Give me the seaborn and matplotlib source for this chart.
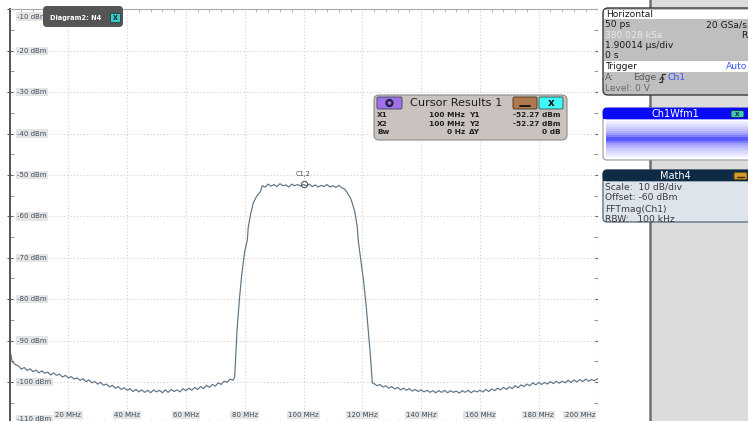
import numpy as np
import pandas as pd
import matplotlib
matplotlib.use("Agg")
import matplotlib.pyplot as plt
import seaborn as sns
from matplotlib.patches import Rectangle, FancyBboxPatch, Circle
from matplotlib.transforms import Affine2D

# ---------------- data ----------------
freq_low = [0.3] + list(range(1, 77)) + [76.6, 77.0, 77.4, 78.2, 79.0, 80.0, 80.9, 81.2, 82.0, 82.9, 84.0, 85.3]
level_low = [-93.0,
             -95.2, -95.8, -96.1, -96.9, -96.5, -97.2, -96.8, -97.5, -97.1, -97.8,
             -97.3, -97.9, -97.6, -98.3, -97.8, -98.4, -98.1, -98.8, -98.4, -99.0,
             -98.7, -99.3, -99.0, -99.6, -99.2, -99.9, -99.5, -100.2, -99.9, -100.5,
             -100.1, -100.8, -100.5, -101.2, -100.8, -101.5, -101.1, -101.8, -101.4, -102.0,
             -101.6, -102.3, -101.8, -102.4, -101.9, -102.5, -102.0, -102.6, -101.9, -102.4,
             -102.0, -102.6, -101.9, -102.5, -101.8, -102.3, -101.9, -102.4, -101.6, -102.1,
             -101.5, -102.0, -101.3, -101.8, -101.1, -101.6, -100.8, -101.3, -100.6, -101.0,
             -100.2, -100.6, -99.8, -100.1, -99.3, -99.6,
             -98.8, -93.0, -87.4, -80.0, -74.0, -68.5, -65.7, -62.6, -59.5, -56.8, -55.2, -54.1]
freq_top = list(range(86, 115))
level_top = [-52.6, -52.9, -52.2, -52.7, -52.3, -52.8, -52.1, -52.6, -52.4, -52.9,
             -52.2, -52.6, -52.3, -52.7, -52.27, -52.6, -52.2, -52.8, -52.4, -52.9,
             -52.5, -52.8, -52.3, -52.9, -52.6, -53.0, -52.5, -53.1, -53.4]
freq_high = [114.9, 116.0, 116.6, 117.5, 118.3, 118.6, 119.5, 120.5, 121.3, 122.0, 122.8, 123.4] + list(range(124, 201))
level_high = [-54.3, -55.6, -56.8, -59.0, -62.6, -65.7, -70.5, -76.0, -81.5, -87.4, -94.0, -100.2,
              -100.4, -100.9, -100.6, -101.2, -100.9, -101.5, -101.1, -101.7, -101.3, -101.9,
              -101.5, -102.0, -101.6, -102.2, -101.8, -102.3, -101.9, -102.4, -102.0, -102.5,
              -102.1, -102.6, -102.1, -102.5, -102.0, -102.6, -102.1, -102.5, -102.2, -102.7,
              -102.1, -102.5, -102.0, -102.6, -102.1, -102.4, -102.0, -102.4, -101.8, -102.3,
              -101.7, -102.1, -101.5, -101.9, -101.3, -101.8, -101.2, -101.6, -100.9, -101.4,
              -100.7, -101.1, -100.5, -100.9, -100.2, -100.7, -100.1, -100.6, -100.1, -100.5,
              -99.9, -100.4, -99.8, -100.3, -99.8, -100.2, -99.6, -100.1, -99.5, -100.0,
              -99.4, -99.9, -99.3, -99.8, -99.4, -99.7, -99.2]

freq_mhz = freq_low + freq_top + freq_high
level_dbm = level_low + level_top + level_high

y_ticks = [-110, -100, -90, -80, -70, -60, -50, -40, -30, -20, -10]
y_labels = ["-110 dBm", "-100 dBm", "-90 dBm", "-80 dBm", "-70 dBm", "-60 dBm",
            "-50 dBm", "-40 dBm", "-30 dBm", "-20 dBm", "-10 dBm"]
x_ticks = [0, 20, 40, 60, 80, 100, 120, 140, 160, 180, 200]
x_labels = ["", "20 MHz", "40 MHz", "60 MHz", "80 MHz", "100 MHz", "120 MHz",
            "140 MHz", "160 MHz", "180 MHz", "200 MHz"]

cursor_x = 100
cursor_y = -52.27

# ---------------- figure ----------------
W, H = 748, 421
sns.set_theme(style="white")
plt.rcParams["font.family"] = ["DejaVu Sans"]
fig = plt.figure(figsize=(W / 100, H / 100), dpi=100, facecolor="white")
PX = Affine2D().scale(1 / W, -1 / H).translate(0, 1) + fig.transFigure

ax_left, ax_right, ax_top, ax_bot = 9.5, 597.5, 9.4, 423.4
ax = fig.add_axes([ax_left / W, 1 - ax_bot / H, (ax_right - ax_left) / W, (ax_bot - ax_top) / H])
ax.set_facecolor("white")

df = pd.DataFrame({"freq": freq_mhz, "level": level_dbm})
sns.lineplot(data=df, x="freq", y="level", ax=ax, color="#5d7388", linewidth=0.85, sort=False)

ax.set_xlim(0, 200)
ax.set_ylim(-110, -10)
ax.set_xticks(x_ticks)
ax.set_yticks(y_ticks)
ax.set_yticks(np.arange(-105, -10, 10), minor=True)
ax.set_xticks(np.arange(0, 201, 4), minor=True)
ax.tick_params(axis="both", which="both", labelleft=False, labelbottom=False)
ax.tick_params(axis="y", which="major", direction="inout", length=5, color="#606060", width=0.8,
               left=True, right=True)
ax.tick_params(axis="y", which="minor", direction="in", length=3, color="#808080", width=0.6,
               left=True, right=True)
ax.tick_params(axis="x", which="major", direction="in", length=0, top=False, bottom=False)
ax.tick_params(axis="x", which="minor", direction="in", length=2, color="#b0b0b0", width=0.6,
               top=True, bottom=True)
ax.set_xlabel("")
ax.set_ylabel("")
ax.grid(True, which="major", color="#cdcdcd", linestyle=(0, (1.0, 2.2)), linewidth=0.75)
ax.spines["left"].set_color("#555555")
ax.spines["left"].set_linewidth(1.4)
for s in ["top", "right", "bottom"]:
    ax.spines[s].set_color("#a8a8a8")
    ax.spines[s].set_linewidth(0.8)

lab_kw = dict(fontsize=5, color="#3e4e5e",
              bbox=dict(boxstyle="square,pad=0.18", fc="#e4e4e4", ec="none"))
ytr = ax.get_yaxis_transform()
for v, lab in zip(y_ticks, y_labels):
    if not lab:
        continue
    if v == -10:
        ax.text(0.013, v - 1.0, lab, transform=ytr, ha="left", va="top", **lab_kw)
    elif v == -110:
        ax.text(0.013, -109.0, lab, transform=ytr, ha="left", va="center", **lab_kw)
    else:
        ax.text(0.013, v, lab, transform=ytr, ha="left", va="center", **lab_kw)
for v, lab in zip(x_ticks, x_labels):
    if not lab:
        continue
    if v == 200:
        ax.text(v - 0.8, -108.0, lab, ha="right", va="center", **lab_kw)
    else:
        ax.text(v, -108.0, lab, ha="center", va="center", **lab_kw)

# cursor marker
ax.plot([cursor_x], [cursor_y], marker="o", markersize=4.5, mfc="none", mec="#505a66", mew=0.8)
ax.text(cursor_x, cursor_y + 1.9, "C1,2", ha="center", va="bottom", fontsize=4.8, color="#404850")

# ---------------- overlays in pixel coordinates ----------------
def rect(x, y, w, h, fc, ec="none", lw=0, z=5, r=0, alpha=None):
    if r:
        p = FancyBboxPatch((x, y), w, h, boxstyle=f"round,pad=0,rounding_size={r}",
                           fc=fc, ec=ec, lw=lw, transform=PX, zorder=z, alpha=alpha)
    else:
        p = Rectangle((x, y), w, h, fc=fc, ec=ec, lw=lw, transform=PX, zorder=z, alpha=alpha)
    fig.add_artist(p)
    return p

def txt(x, y, s, z=10, **kw):
    kw.setdefault("va", "center")
    kw.setdefault("ha", "left")
    fig.text(x, y, s, transform=PX, zorder=z, **kw)

# diagram tab
rect(43, 6, 80, 21, "#555555", r=4, z=6)
txt(50, 18, "Diagram2: N4", fontsize=4.8, color="white", weight="bold")
rect(110, 13, 10, 9, "#3fc8c8", ec="#1a4a4a", lw=0.6, z=7)
txt(115, 17.8, "x", fontsize=5.5, color="#10302f", weight="bold", ha="center")

# right side panel
rect(598, 0, 52, H, "white", z=3)
rect(650, 0, 98, H, "#dcdcdc", z=3)
fig.add_artist(plt.Line2D([650, 650], [0, H], transform=PX, color="#6e6e6e", lw=1.8, zorder=4))

# Horizontal box
rect(603, 8, 150, 87, "#bfbfbf", ec="#3a3a3a", lw=1.0, r=5, z=6)
rect(604, 9.5, 146, 9.5, "white", z=7)
rect(604, 61, 146, 10.5, "white", z=7)
fs = 6.6
txt(606, 14.5, "Horizontal", fontsize=fs, color="#1a1a1a")
txt(605, 24.5, "50 ps", fontsize=fs, color="#1a1a1a")
txt(747, 24.5, "20 GSa/s", fontsize=fs, color="#1a1a1a", ha="right")
txt(605, 35, "380.028 kSa", fontsize=fs, color="#eaeaea")
txt(741, 35, "R", fontsize=fs, color="#1a1a1a")
txt(605, 45.5, "1.90014 \u00b5s/div", fontsize=fs, color="#1a1a1a")
txt(605, 56, "0 s", fontsize=fs, color="#1a1a1a")
txt(606, 66.5, "Trigger", fontsize=fs, color="#1a1a1a")
txt(747, 66.5, "Auto", fontsize=fs, color="#3a55ff", ha="right")
txt(605, 78, "A:", fontsize=fs, color="#555555")
txt(633, 78, "Edge", fontsize=fs, color="#555555")
fig.add_artist(plt.Line2D([659, 662, 662, 665], [82, 82, 74, 74], transform=PX,
                          color="#333333", lw=0.9, zorder=10))
fig.add_artist(plt.Line2D([660, 662, 664], [79.5, 77, 79.5], transform=PX,
                          color="#333333", lw=0.8, zorder=10))
txt(668, 78, "Ch1", fontsize=fs, color="#3a55ff")
txt(605, 88.5, "Level: 0 V", fontsize=fs, color="#6a6a6a")

# Ch1Wfm1 box
rect(603, 108, 150, 52, "white", ec="#9a9a9a", lw=0.8, r=4, z=6)
rect(603, 108, 150, 11, "#0a0afa", ec="#0a0afa", lw=0.5, r=4, z=7)
rect(603, 114, 150, 5, "#0a0afa", z=7)
txt(675, 114, "Ch1Wfm1", fontsize=7.0, color="white", ha="center")
rect(731, 110.5, 13, 7, "#40c8c0", ec="#0a3030", lw=0.6, r=1.5, z=8)
txt(737.5, 114.2, "x", fontsize=5, color="#0a3030", ha="center", weight="bold")
band_alpha = [0.08, 0.14, 0.2, 0.26, 0.32, 0.4, 0.5, 0.65, 0.85, 0.85, 0.65, 0.5, 0.4, 0.32, 0.26, 0.2, 0.14, 0.08]
for i, a in enumerate(band_alpha):
    rect(606, 121 + 2 * i, 142, 2, "#3c3cff", z=7, alpha=a)

# Math4 box
rect(603, 170, 150, 52, "#dde4ec", ec="#55657a", lw=0.9, r=4, z=6)
rect(603, 170, 150, 11, "#0d2b45", ec="#0d2b45", lw=0.5, r=4, z=7)
rect(603, 176, 150, 5, "#0d2b45", z=7)
txt(675, 175.8, "Math4", fontsize=7.0, color="white", ha="center")
rect(734, 172.5, 13, 7, "#d69a30", ec="#6a4a10", lw=0.6, r=1.5, z=8)
fig.add_artist(plt.Line2D([737, 744], [176.5, 176.5], transform=PX, color="#3a2a00", lw=1.0, zorder=9))
txt(605, 187, "Scale:  10 dB/div", fontsize=fs, color="#3a3a3a")
txt(605, 198, "Offset: -60 dBm", fontsize=fs, color="#3a3a3a")
txt(605, 209, "FFTmag(Ch1)", fontsize=fs, color="#3a3a3a")
txt(605, 219.5, "RBW:   100 kHz", fontsize=fs, color="#3a3a3a")

# Cursor results box
rect(374, 95, 193, 45, "#c9c2be", ec="#8c8c8c", lw=0.8, r=5, z=6)
rect(377, 97, 25, 12, "#a070e8", ec="#404060", lw=0.6, r=1.5, z=7)
fig.add_artist(Circle((389.5, 103), 3.0, transform=PX, fc="none", ec="#20203a", lw=1.6, zorder=8))
txt(410, 103, "Cursor Results 1", fontsize=8.1, color="#1e1e1e")
rect(513, 97, 24, 12, "#b07a4e", ec="#403020", lw=0.6, r=1.5, z=7)
fig.add_artist(plt.Line2D([520, 530], [105.5, 105.5], transform=PX, color="#1a1a1a", lw=1.4, zorder=8))
rect(539, 97, 24, 12, "#40f8f8", ec="#305050", lw=0.6, r=1.5, z=7)
txt(551, 103.3, "x", fontsize=7.5, color="#101010", ha="center", weight="bold")
cfs = 5.3
rows = [("X1", "100 MHz", "Y1", "-52.27 dBm"),
        ("X2", "100 MHz", "Y2", "-52.27 dBm"),
        ("Bw", "0 Hz", "\u0394Y", "0 dB")]
for i, (a, b, c, d) in enumerate(rows):
    yy = 115 + i * 8.5
    txt(377, yy, a, fontsize=cfs, color="#202020", weight="bold")
    txt(465, yy, b, fontsize=cfs, color="#202020", ha="right", weight="bold")
    txt(469, yy, c, fontsize=cfs, color="#202020", weight="bold")
    txt(561, yy, d, fontsize=cfs, color="#202020", ha="right", weight="bold")

fig.savefig("out.png", dpi=100, facecolor="white")
